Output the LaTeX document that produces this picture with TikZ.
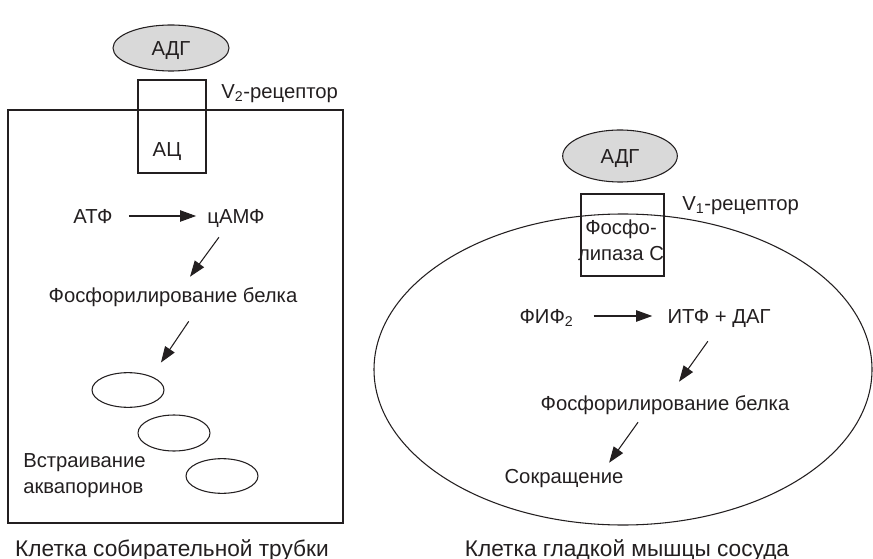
\documentclass[tikz,border=0pt]{standalone}
\usepackage{fontspec}
\setmainfont{Liberation Sans}
\usepackage{tikz}
\usetikzlibrary{arrows.meta,shapes.geometric}
\definecolor{ink}{HTML}{231F20}
\definecolor{shade}{HTML}{D9D9D9}
\newcommand{\bodyfont}{\fontsize{15.2}{19.5}\selectfont}
\newcommand{\capfont}{\fontsize{17}{21}\selectfont}
\tikzset{
  hormone/.style={ellipse,draw=ink,fill=shade,line width=0.8pt,
                  minimum width=87pt,minimum height=36pt,inner sep=0pt,
                  text height=11pt,text depth=0pt,font=\bodyfont,text=ink},
  receptor/.style={draw=ink,line width=0.8pt,inner sep=0pt},
  cellwall/.style={draw=ink,line width=0.8pt,inner sep=0pt},
  vesicle/.style={ellipse,draw=ink,line width=0.8pt,
                  minimum width=54pt,minimum height=26pt,inner sep=0pt},
  lbl/.style={inner sep=0pt,text height=11pt,text depth=0pt,
              font=\bodyfont,text=ink},
  para/.style={inner sep=0pt,font=\bodyfont,text=ink},
  caption/.style={inner sep=0pt,text height=12.2pt,text depth=0pt,
                  font=\capfont,text=ink},
  flow/.style={-{Triangle[length=12pt,width=8.5pt]},line width=0.8pt,
               draw=ink}
}
\begin{document}
\begin{tikzpicture}[x=0.75pt,y=-0.75pt]
    \path[use as bounding box] (0,0) rectangle (873,559);
    % collecting duct cell
    \node[cellwall,minimum width=251.25pt,minimum height=309.75pt] (ductcell) at (175.5,316.5) {};
    \node[receptor,minimum width=51pt,minimum height=69.75pt] (vtwo) at (172,126.5) {};
    \node[hormone,minimum height=34.5pt] (adhL) at (171,48) {АДГ};
    \node[lbl,anchor=west] (vtwolbl) at (221,91) {V\textsubscript{2}-рецептор};
    \node[lbl] (ac) at (167,149) {АЦ};
    \node[lbl] (atp) at (93,216) {АТФ};
    \node[lbl] (camp) at (236,216) {цАМФ};
    \node[lbl] (phosL) at (173,295) {Фосфорилирование белка};
    \node[vesicle] (aqA) at (128,390) {};
    \node[vesicle,minimum height=27pt] (aqB) at (174,433) {};
    \node[vesicle] (aqC) at (222,476) {};
    \node[para,align=left,anchor=west] (insert) at (23,476) {Встраивание\\аквапоринов};
    \node[caption] (ductcap) at (172,548) {Клетка собирательной трубки};
    \draw[flow,shorten <=12pt,shorten >=8.25pt] (atp.east) -- (camp.west);
    \draw[flow,shorten <=12.7pt,shorten >=9.9pt] ([xshift=-5.3pt]camp.south) -- ([xshift=6.9pt]phosL.north);
    \draw[flow,shorten <=17pt,shorten >=12.5pt] ([xshift=21.3pt]phosL.south) -- (aqA.30);

    % vascular smooth muscle cell
    \node[cellwall,ellipse,minimum width=373.5pt,minimum height=233.25pt] (musclecell) at (623,369.5) {};
    \node[receptor,minimum width=62.25pt,minimum height=61.5pt] (vone) at (622.5,235) {};
    \node[hormone,minimum width=86pt,minimum height=39pt] (adhR) at (620,156) {АДГ};
    \node[lbl,anchor=west] (vonelbl) at (682,203) {V\textsubscript{1}-рецептор};
    \node[para,align=center] (plc) at (621,240) {Фосфо-\\липаза С};
    \node[lbl] (pip) at (546.5,316) {ФИФ\textsubscript{2}};
    \node[lbl] (ip3) at (719,316) {ИТФ + ДАГ};
    \node[lbl] (phosR) at (665,403) {Фосфорилирование белка};
    \node[lbl] (contr) at (564,476) {Сокращение};
    \node[caption] (musclecap) at (627,548) {Клетка гладкой мышцы сосуда};
    \draw[flow,shorten <=15pt,shorten >=11.25pt] (pip.east) -- (ip3.west);
    \draw[flow,shorten <=16.3pt,shorten >=12.6pt] ([xshift=1.1pt]ip3.south) -- ([xshift=3.2pt]phosR.north);
    \draw[flow,shorten <=10.7pt,shorten >=5.2pt] ([xshift=-14pt]phosR.south) -- ([xshift=30.8pt]contr.north);
\end{tikzpicture}
\end{document}
